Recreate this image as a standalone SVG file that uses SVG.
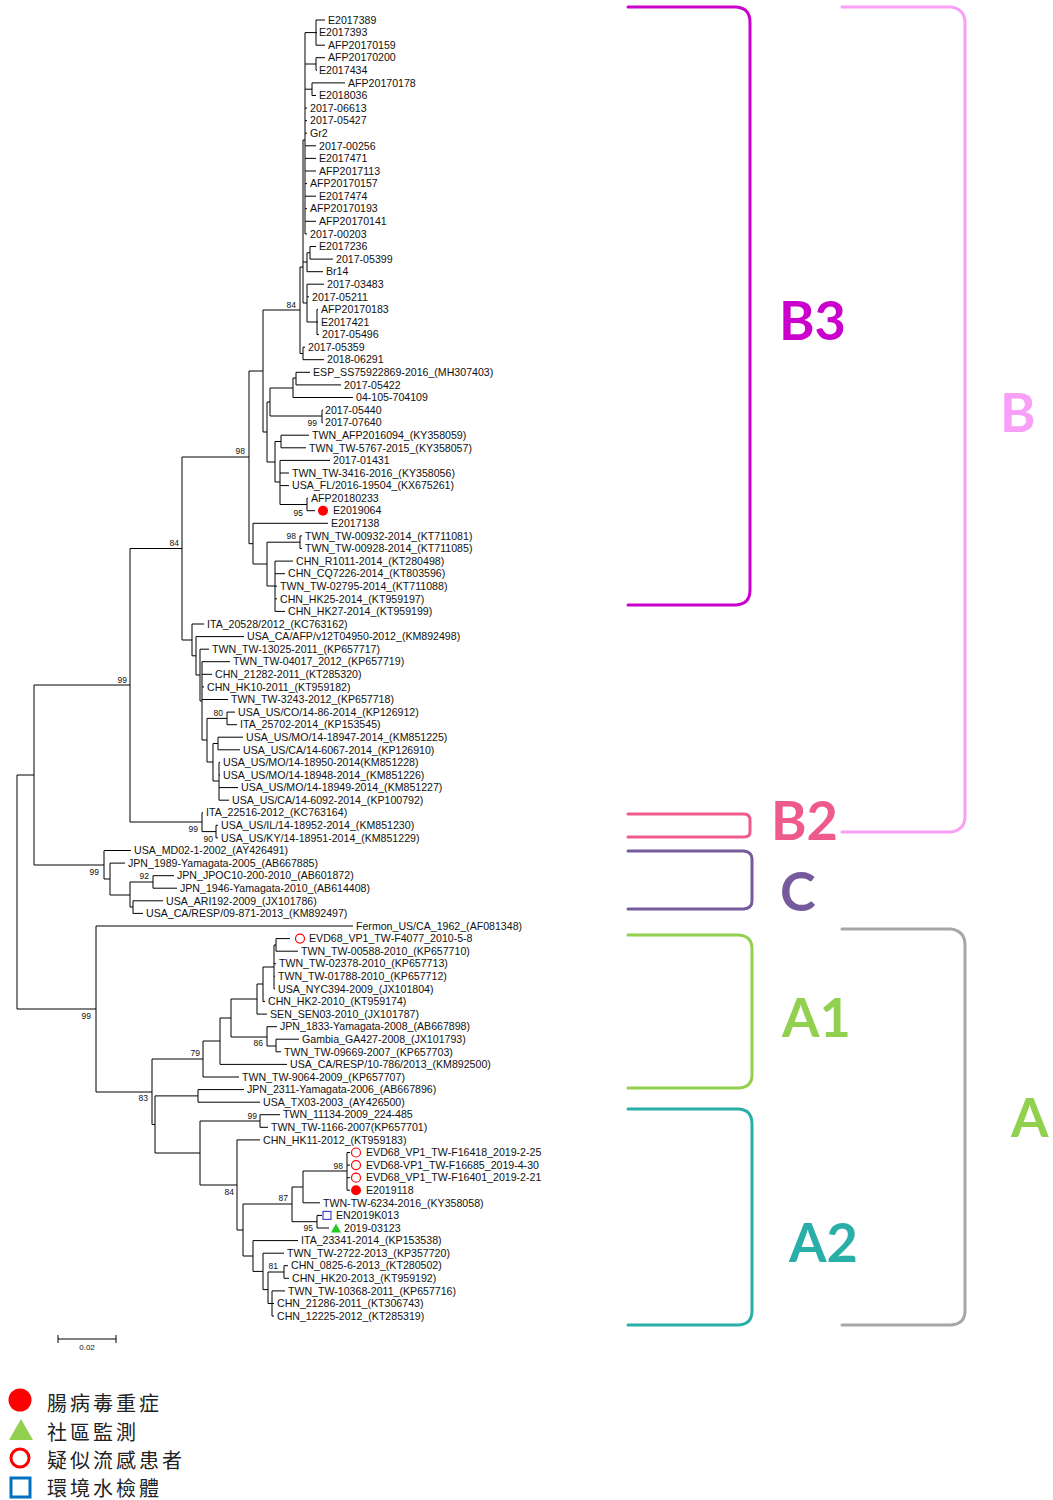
<svg xmlns="http://www.w3.org/2000/svg" width="1053" height="1500" viewBox="0 0 1053 1500">
<style>
.t{font-family:"Liberation Sans",Arial,sans-serif;font-size:10.6px;fill:#111}
.b{font-family:"Liberation Sans",Arial,sans-serif;font-size:8.5px;fill:#111;text-anchor:end}
.br{fill:none;stroke-width:3;stroke-linecap:round}
.cl{font-family:Lato,"Liberation Sans",sans-serif;font-weight:bold;font-size:54px}
.lg{font-family:"Noto Sans CJK TC","Noto Sans CJK SC",sans-serif;font-size:20px;letter-spacing:3px;fill:#222}
</style>
<rect width="1053" height="1500" fill="#fff"/>
<g id="connectors" fill="none" stroke="#000" stroke-width="1">
<path d="M316 20V45.2M316 20H325M316 32.6H317M316 45.2H325M305 32.6H316M316 57.7V70.3M316 57.7H325M316 70.3H317M305 64H316M312 82.9V95.5M312 82.9H345M312 95.5H316M305 89.2H312M305 32.6V233.9M305 108.1H307M305 120.7H307M305 133.2H307M305 145.8H316M305 158.4H316M305 171H316M305 183.6H307M305 196.2H316M305 208.7H307M305 221.3H316M305 233.9H307M303 140H305M303 140V303M303 262H307M307 252.8V271.7M307 252.8H310M310 246.5V259.1M310 246.5H316M310 259.1H333M307 271.7H323M303 303H307M307 284.2V322M307 284.2H324M307 296.8H309M307 322H317M317 309.4V334.6M317 309.4H318M317 322H318M317 334.6H319M300 267V353.5M300 267H303M300 353.5H303M303 347.2V359.7M303 347.2H305M303 359.7H324M263 310H300"/>
<path d="M263 310V432M249 371H263M263 432H267M267 402V462M267 402H270M270 388V416M270 388H293M293 378V397.5M293 378H296M296 372.3V384.9M296 372.3H310M296 384.9H341M293 397.5H353M270 416H322M322 410.1V422.7M322 410.1H323M322 422.7H323M267 462H275M275 441.5V482M275 441.5H281M281 435.2V447.8M281 435.2H309M281 447.8H306M275 482H280M280 460.4V504.5M280 460.4H330M280 473H289M280 485.6H289M280 504.5H307M307 498.2V510.7M307 498.2H308M307 510.7H315"/>
<path d="M249 371V543.7M182 457H249M249 543.7H253M253 523.3V564M253 523.3H328M253 564H267M267 542.2V586M267 542.2H300M300 535.9V548.5M300 535.9H302M300 548.5H302M267 586H275M275 561.1V611.4M275 561.1H293M275 573.7H285M275 586.2H277M275 598.8H277M275 611.4H285"/>
<path d="M182 457V640M130 548.5H182M182 640H192M192 624V655.8M192 624H204M192 655.8H196M196 636.6V675M196 636.6H244M196 675H200M200 649.2V701M200 649.2H209M200 701H202M202 661.7V740M202 661.7H230M202 674.3H212M202 686.9H204M202 699.5H228M202 740H207M207 718.4V762M207 718.4H227M227 712.1V724.7M227 712.1H235M227 724.7H237M207 762H213M213 743.5V781M213 743.5H218M218 737.2V749.8M218 737.2H243M218 749.8H240M213 781H219M219 762.4V800.2M219 762.4H220M219 775H220M219 787.6H238M219 800.2H229"/>
<path d="M130 548.5V822M34 685H130M130 822H202M202 812.7V831.6M202 812.7H203M202 831.6H216M216 825.3V837.9M216 825.3H218M216 837.9H218"/>
<path d="M34 685V865M17 775H34M34 865H104M104 850.5V879M104 850.5H131M104 879H110M110 863.1V895M110 863.1H125M110 895H130M130 882H153M130 882V907M153 875.7V888.2M153 875.7H174M153 888.2H177M130 907H133M133 900.8V913.4M133 900.8H163M133 913.4H143"/>
<path d="M17 775V1009M17 1009H96M96 926V1092M96 926H353M96 1092H152M152 1059V1124.5M152 1059H203M152 1124.5H155M203 1041V1077M203 1077H239M203 1041H220M220 1018V1064.4M220 1064.4H287M220 1018H231M231 999V1037M231 999H257M231 1037H267M257 984V1014.1M257 1014.1H267M257 984H263M263 967V1001.5M263 1001.5H265M263 967H274M274 945V988.9M274 945H276M274 963.7H276M274 976.3H275M274 988.9H275M276 938.6V951.2M276 938.6H290M276 951.2H298M267 1026.7V1046M267 1026.7H277M267 1046H276M276 1039.2V1051.8M276 1039.2H299M276 1051.8H281"/>
<path d="M155 1095.9V1153M155 1095.9H198M198 1089.6V1102.2M198 1089.6H244M198 1102.2H260M155 1153H200M200 1121H260M200 1121V1185M200 1185H237M260 1114.7V1127.3M260 1114.7H280M260 1127.3H268M237 1139.9V1230M237 1139.9H260M237 1230H243M243 1204V1256M243 1204H292M243 1256H253M292 1187V1221.7M292 1187H303M292 1221.7H317M303 1171V1202.8M303 1171H347M303 1202.8H320M347 1152.5V1190.2M347 1152.5H350M347 1165.1H350M347 1177.7H350M347 1190.2H350M317 1215.4V1228M317 1215.4H322M317 1228H329M253 1240.6V1271.4M253 1240.6H298M253 1271.4H263M263 1253.2V1289.6M263 1253.2H284M263 1289.6H268M268 1272V1303.5M268 1272H284M268 1303.5H272M284 1265.7V1278.3M284 1265.7H288M284 1278.3H289M272 1290.9V1316.1M272 1290.9H285M272 1303.5H274M272 1316.1H274"/>
<path d="M58 1339H116M58 1335V1343M116 1335V1343"/>
</g>
<g id="leaves">
<text class="t" x="328" y="23.7">E2017389</text>
<text class="t" x="319" y="36.3">E2017393</text>
<text class="t" x="328" y="48.9">AFP20170159</text>
<text class="t" x="328" y="61.4">AFP20170200</text>
<text class="t" x="319" y="74">E2017434</text>
<text class="t" x="348" y="86.6">AFP20170178</text>
<text class="t" x="319" y="99.2">E2018036</text>
<text class="t" x="310" y="111.8">2017-06613</text>
<text class="t" x="310" y="124.4">2017-05427</text>
<text class="t" x="310" y="136.9">Gr2</text>
<text class="t" x="319" y="149.5">2017-00256</text>
<text class="t" x="319" y="162.1">E2017471</text>
<text class="t" x="319" y="174.7">AFP2017113</text>
<text class="t" x="310" y="187.3">AFP20170157</text>
<text class="t" x="319" y="199.9">E2017474</text>
<text class="t" x="310" y="212.4">AFP20170193</text>
<text class="t" x="319" y="225">AFP20170141</text>
<text class="t" x="310" y="237.6">2017-00203</text>
<text class="t" x="319" y="250.2">E2017236</text>
<text class="t" x="336" y="262.8">2017-05399</text>
<text class="t" x="326" y="275.4">Br14</text>
<text class="t" x="327" y="287.9">2017-03483</text>
<text class="t" x="312" y="300.5">2017-05211</text>
<text class="t" x="321" y="313.1">AFP20170183</text>
<text class="t" x="321" y="325.7">E2017421</text>
<text class="t" x="322" y="338.3">2017-05496</text>
<text class="t" x="308" y="350.9">2017-05359</text>
<text class="t" x="327" y="363.4">2018-06291</text>
<text class="t" x="313" y="376">ESP_SS75922869-2016_(MH307403)</text>
<text class="t" x="344" y="388.6">2017-05422</text>
<text class="t" x="356" y="401.2">04-105-704109</text>
<text class="t" x="325" y="413.8">2017-05440</text>
<text class="t" x="325" y="426.4">2017-07640</text>
<text class="t" x="312" y="438.9">TWN_AFP2016094_(KY358059)</text>
<text class="t" x="309" y="451.5">TWN_TW-5767-2015_(KY358057)</text>
<text class="t" x="333" y="464.1">2017-01431</text>
<text class="t" x="292" y="476.7">TWN_TW-3416-2016_(KY358056)</text>
<text class="t" x="292" y="489.3">USA_FL/2016-19504_(KX675261)</text>
<text class="t" x="311" y="501.9">AFP20180233</text>
<text class="t" x="333" y="514.4">E2019064</text>
<text class="t" x="331" y="527">E2017138</text>
<text class="t" x="305" y="539.6">TWN_TW-00932-2014_(KT711081)</text>
<text class="t" x="305" y="552.2">TWN_TW-00928-2014_(KT711085)</text>
<text class="t" x="296" y="564.8">CHN_R1011-2014_(KT280498)</text>
<text class="t" x="288" y="577.4">CHN_CQ7226-2014_(KT803596)</text>
<text class="t" x="280" y="589.9">TWN_TW-02795-2014_(KT711088)</text>
<text class="t" x="280" y="602.5">CHN_HK25-2014_(KT959197)</text>
<text class="t" x="288" y="615.1">CHN_HK27-2014_(KT959199)</text>
<text class="t" x="207" y="627.7">ITA_20528/2012_(KC763162)</text>
<text class="t" x="247" y="640.3">USA_CA/AFP/v12T04950-2012_(KM892498)</text>
<text class="t" x="212" y="652.9">TWN_TW-13025-2011_(KP657717)</text>
<text class="t" x="233" y="665.4">TWN_TW-04017_2012_(KP657719)</text>
<text class="t" x="215" y="678">CHN_21282-2011_(KT285320)</text>
<text class="t" x="207" y="690.6">CHN_HK10-2011_(KT959182)</text>
<text class="t" x="231" y="703.2">TWN_TW-3243-2012_(KP657718)</text>
<text class="t" x="238" y="715.8">USA_US/CO/14-86-2014_(KP126912)</text>
<text class="t" x="240" y="728.4">ITA_25702-2014_(KP153545)</text>
<text class="t" x="246" y="740.9">USA_US/MO/14-18947-2014_(KM851225)</text>
<text class="t" x="243" y="753.5">USA_US/CA/14-6067-2014_(KP126910)</text>
<text class="t" x="223" y="766.1">USA_US/MO/14-18950-2014(KM851228)</text>
<text class="t" x="223" y="778.7">USA_US/MO/14-18948-2014_(KM851226)</text>
<text class="t" x="241" y="791.3">USA_US/MO/14-18949-2014_(KM851227)</text>
<text class="t" x="232" y="803.9">USA_US/CA/14-6092-2014_(KP100792)</text>
<text class="t" x="206" y="816.4">ITA_22516-2012_(KC763164)</text>
<text class="t" x="221" y="829">USA_US/IL/14-18952-2014_(KM851230)</text>
<text class="t" x="221" y="841.6">USA_US/KY/14-18951-2014_(KM851229)</text>
<text class="t" x="134" y="854.2">USA_MD02-1-2002_(AY426491)</text>
<text class="t" x="128" y="866.8">JPN_1989-Yamagata-2005_(AB667885)</text>
<text class="t" x="177" y="879.4">JPN_JPOC10-200-2010_(AB601872)</text>
<text class="t" x="180" y="891.9">JPN_1946-Yamagata-2010_(AB614408)</text>
<text class="t" x="166" y="904.5">USA_ARI192-2009_(JX101786)</text>
<text class="t" x="146" y="917.1">USA_CA/RESP/09-871-2013_(KM892497)</text>
<text class="t" x="356" y="929.7">Fermon_US/CA_1962_(AF081348)</text>
<text class="t" x="309" y="942.3">EVD68_VP1_TW-F4077_2010-5-8</text>
<text class="t" x="301" y="954.9">TWN_TW-00588-2010_(KP657710)</text>
<text class="t" x="279" y="967.4">TWN_TW-02378-2010_(KP657713)</text>
<text class="t" x="278" y="980">TWN_TW-01788-2010_(KP657712)</text>
<text class="t" x="278" y="992.6">USA_NYC394-2009_(JX101804)</text>
<text class="t" x="268" y="1005.2">CHN_HK2-2010_(KT959174)</text>
<text class="t" x="270" y="1017.8">SEN_SEN03-2010_(JX101787)</text>
<text class="t" x="280" y="1030.4">JPN_1833-Yamagata-2008_(AB667898)</text>
<text class="t" x="302" y="1042.9">Gambia_GA427-2008_(JX101793)</text>
<text class="t" x="284" y="1055.5">TWN_TW-09669-2007_(KP657703)</text>
<text class="t" x="290" y="1068.1">USA_CA/RESP/10-786/2013_(KM892500)</text>
<text class="t" x="242" y="1080.7">TWN_TW-9064-2009_(KP657707)</text>
<text class="t" x="247" y="1093.3">JPN_2311-Yamagata-2006_(AB667896)</text>
<text class="t" x="263" y="1105.9">USA_TX03-2003_(AY426500)</text>
<text class="t" x="283" y="1118.4">TWN_11134-2009_224-485</text>
<text class="t" x="271" y="1131">TWN_TW-1166-2007(KP657701)</text>
<text class="t" x="263" y="1143.6">CHN_HK11-2012_(KT959183)</text>
<text class="t" x="366" y="1156.2">EVD68_VP1_TW-F16418_2019-2-25</text>
<text class="t" x="366" y="1168.8">EVD68-VP1_TW-F16685_2019-4-30</text>
<text class="t" x="366" y="1181.4">EVD68_VP1_TW-F16401_2019-2-21</text>
<text class="t" x="366" y="1193.9">E2019118</text>
<text class="t" x="323" y="1206.5">TWN-TW-6234-2016_(KY358058)</text>
<text class="t" x="336" y="1219.1">EN2019K013</text>
<text class="t" x="344" y="1231.7">2019-03123</text>
<text class="t" x="301" y="1244.3">ITA_23341-2014_(KP153538)</text>
<text class="t" x="287" y="1256.9">TWN_TW-2722-2013_(KP357720)</text>
<text class="t" x="291" y="1269.4">CHN_0825-6-2013_(KT280502)</text>
<text class="t" x="292" y="1282">CHN_HK20-2013_(KT959192)</text>
<text class="t" x="288" y="1294.6">TWN_TW-10368-2011_(KP657716)</text>
<text class="t" x="277" y="1307.2">CHN_21286-2011_(KT306743)</text>
<text class="t" x="277" y="1319.8">CHN_12225-2012_(KT285319)</text>
</g>
<g id="bootstrap">
<text class="b" x="296" y="307.5">84</text>
<text class="b" x="317" y="425.5">99</text>
<text class="b" x="245" y="453.5">98</text>
<text class="b" x="303" y="515.5">95</text>
<text class="b" x="296" y="538.5">98</text>
<text class="b" x="179" y="545.5">84</text>
<text class="b" x="127" y="682.5">99</text>
<text class="b" x="223" y="715.5">80</text>
<text class="b" x="198" y="832">99</text>
<text class="b" x="213" y="841.5">90</text>
<text class="b" x="99" y="875">99</text>
<text class="b" x="149" y="879">92</text>
<text class="b" x="91" y="1019">99</text>
<text class="b" x="263" y="1046">86</text>
<text class="b" x="200" y="1056">79</text>
<text class="b" x="148" y="1101">83</text>
<text class="b" x="257" y="1119">99</text>
<text class="b" x="343" y="1169">98</text>
<text class="b" x="234" y="1195">84</text>
<text class="b" x="288" y="1201">87</text>
<text class="b" x="313" y="1231">95</text>
<text class="b" x="278" y="1269">81</text>
</g>
<g id="markers">
<circle cx="323" cy="510.7" r="5" fill="#f00"/>
<circle cx="300" cy="938.6" r="4.5" fill="none" stroke="#f00" stroke-width="1.2"/>
<circle cx="356" cy="1152.5" r="4.5" fill="none" stroke="#f00" stroke-width="1.2"/>
<circle cx="356" cy="1165.1" r="4.5" fill="none" stroke="#f00" stroke-width="1.2"/>
<circle cx="356" cy="1177.7" r="4.5" fill="none" stroke="#f00" stroke-width="1.2"/>
<circle cx="356" cy="1190.2" r="5" fill="#f00"/>
<rect x="323" y="1211.4" width="8" height="8" fill="none" stroke="#33c" stroke-width="1.1"/>
<polygon points="331,1232.5 336,1223.5 341,1232.5" fill="#2c2"/>
</g>
<g id="scale">
<text x="87" y="1350" font-family="Liberation Sans, Arial, sans-serif" font-size="8" text-anchor="middle" fill="#111">0.02</text>
</g>
<g id="clade-B3"><path class="br" stroke="#cc00cc" d="M628 7H736Q750 8 750 22V590Q750 604 736 605H628"/><text class="cl" x="779" y="340" fill="#cc00cc">B3</text></g>
<g id="clade-B"><path class="br" stroke="#f8a0f8" d="M842 7H951Q965 9 965 23V816Q965 830 951 832H842"/><text class="cl" x="1000" y="432" fill="#f8a0f8">B</text></g>
<g id="clade-B2"><path class="br" stroke="#ee5a8a" d="M628 814H744Q750 814 750 820V832Q750 837 744 837H628"/><text class="cl" x="771" y="840" fill="#ee5a8a">B2</text></g>
<g id="clade-C"><path class="br" stroke="#765a9c" d="M628 851H744Q752 852 752 859V901Q752 908 744 909H628"/><text class="cl" x="780" y="911" fill="#765a9c">C</text></g>
<g id="clade-A1"><path class="br" stroke="#92d050" d="M628 935H739Q752 936 752 949V1075Q752 1087 739 1088H628"/><text class="cl" x="782" y="1037" fill="#92d050">A1</text></g>
<g id="clade-A2"><path class="br" stroke="#2aaea8" d="M628 1109H739Q752 1110 752 1124V1311Q752 1324 739 1325H628"/><text class="cl" x="789" y="1262" fill="#2aaea8">A2</text></g>
<g id="clade-A"><path class="br" stroke="#a6a6a6" d="M842 929H951Q965 931 965 945V1311Q965 1324 951 1325H842"/><text class="cl" x="1011" y="1137" fill="#92d050">A</text></g>
<g id="legend">
<circle cx="20" cy="1400" r="11.5" fill="#f00"/>
<polygon points="9,1440 21,1419 33,1440" fill="#92d050"/>
<circle cx="20" cy="1458" r="9" fill="none" stroke="#f00" stroke-width="3"/>
<rect x="11" y="1478" width="19" height="19" fill="none" stroke="#0070c0" stroke-width="3"/>
<text class="lg" x="47" y="1411">腸病毒重症</text>
<text class="lg" x="47" y="1440">社區監測</text>
<text class="lg" x="47" y="1468">疑似流感患者</text>
<text class="lg" x="47" y="1496">環境水檢體</text>
</g>
</svg>
